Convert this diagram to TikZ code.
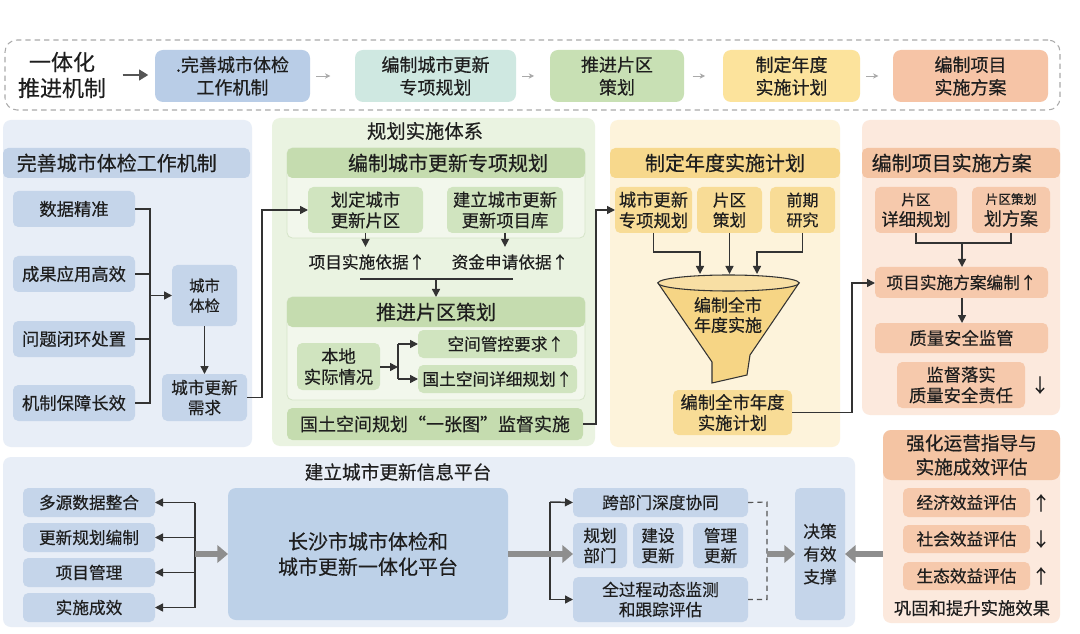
\documentclass[tikz,border=0pt]{standalone}
\usepackage{fontspec}
\setmainfont{Noto Sans CJK SC}[FakeBold=0.4]
\usetikzlibrary{arrows.meta,calc}
\definecolor{txt}{HTML}{1E1E1E}
\definecolor{lnc}{HTML}{333333}
\definecolor{lnc2}{HTML}{555555}
\definecolor{frc}{HTML}{AAAAAA}
\definecolor{thkc}{HTML}{8E8E8E}
\definecolor{cTopA}{HTML}{B9CDE7}
\definecolor{cTopB}{HTML}{CFE8E1}
\definecolor{cTopC}{HTML}{C8E0B4}
\definecolor{cTopD}{HTML}{FCE39C}
\definecolor{cTopE}{HTML}{F6C4A6}
\definecolor{bluBg}{HTML}{E8EEF7}
\definecolor{bluBox}{HTML}{C5D5EA}
\definecolor{bluHd}{HTML}{C3D3E8}
\definecolor{bluBig}{HTML}{BDD1E8}
\definecolor{grnBg}{HTML}{EAF3E1}
\definecolor{grnSub}{HTML}{F2F7EC}
\definecolor{grnSubL}{HTML}{D6E5C9}
\definecolor{grnHd}{HTML}{C5DCAF}
\definecolor{grnBox}{HTML}{D0E4BF}
\definecolor{yelBg}{HTML}{FDF3DB}
\definecolor{yelHd}{HTML}{F7D88C}
\definecolor{yelBox}{HTML}{F8DC96}
\definecolor{yelFun}{HTML}{F6D585}
\definecolor{orgBg}{HTML}{FCE9DD}
\definecolor{orgHd}{HTML}{F4C4A3}
\definecolor{orgBox}{HTML}{F6C9AC}
\newcommand\fsz[2]{\fontsize{#1}{#2}\selectfont}
\newcommand\bx[7]{\node[inner sep=0pt, outer sep=0pt, rounded corners=4pt, align=center,
  minimum width={(#4-#2)*0.75pt}, minimum height={(#5-#3)*0.75pt}, #6]
  (#1) at ({(#2+#4)/2},{(#3+#5)/2}) {#7};}
\begin{document}
\begin{tikzpicture}[x=0.75pt,y=-0.75pt,
  every node/.style={text=txt},
  ln/.style={draw=lnc, line width=1.1pt},
  arr/.style={ln, -{Triangle[width=6pt,length=6pt]}},
  thk/.style={draw=thkc, line width=5pt, -{Triangle[width=13pt,length=8pt]}},
  sarr/.style={draw=frc, line width=0.7pt, -{Stealth[length=4pt,width=4pt]}},
  fA/.style={font=\fsz{12.5pt}{15pt}},
  fB/.style={font=\fsz{13pt}{15.5pt}},
  fH/.style={font=\fsz{15pt}{17pt}}]
\useasboundingbox[fill=white] (0,0) rectangle (1080,634);

% ---------- top band ----------
\bx{topf}{5}{40}{1060}{110}{draw=frc, dash pattern=on 4pt off 3pt, line width=0.8pt, rounded corners=9pt}{}
\node[font=\fsz{16.5pt}{19.5pt}, align=center] (ttl) at (62,75) {一体化\\推进机制};
\bx{tb1}{155}{50}{310}{102}{fill=cTopA, rounded corners=6pt, font=\fsz{13.5pt}{17pt}}{.完善城市体检\\工作机制}
\bx{tb2}{355}{50}{516}{102}{fill=cTopB, rounded corners=6pt, font=\fsz{13.5pt}{17pt}}{编制城市更新\\专项规划}
\bx{tb3}{550}{50}{684}{102}{fill=cTopC, rounded corners=6pt, font=\fsz{13.5pt}{17pt}}{推进片区\\策划}
\bx{tb4}{723}{50}{860}{102}{fill=cTopD, rounded corners=6pt, font=\fsz{13.5pt}{17pt}}{制定年度\\实施计划}
\bx{tb5}{893}{50}{1048}{102}{fill=cTopE, rounded corners=6pt, font=\fsz{13.5pt}{17pt}}{编制项目\\实施方案}
\draw[draw=lnc2, line width=2.2pt, -{Triangle[width=8pt,length=7pt]}, shorten <=9pt, shorten >=5pt] (ttl.east) -- (ttl.east -| tb1.west);
\draw[sarr, shorten <=4.5pt, shorten >=18.5pt] (tb1.east) -- (tb2.west);
\draw[sarr, shorten <=4.5pt, shorten >=12pt] (tb2.east) -- (tb3.west);
\draw[sarr, shorten <=6.5pt, shorten >=13.5pt] (tb3.east) -- (tb4.west);
\draw[sarr, shorten <=4.5pt, shorten >=11pt] (tb4.east) -- (tb5.west);

% ---------- panel 1 ----------
\bx{pn1}{3}{120}{252}{447}{fill=bluBg, rounded corners=6pt}{}
\bx{h1}{3}{148}{250}{178}{fill=bluHd}{}
\node[fH, anchor=west] (h1t) at (12,163) {完善城市体检工作机制};
\bx{pa}{13}{191}{135}{227}{fill=bluBox, fB}{数据精准}
\bx{pb}{13}{256}{135}{292}{fill=bluBox, fB}{成果应用高效}
\bx{pc}{13}{321}{135}{357}{fill=bluBox, fB}{问题闭环处置}
\bx{pd}{13}{385}{135}{421}{fill=bluBox, fB}{机制保障长效}
\bx{chk}{172}{265}{237}{326}{fill=bluBox, font=\fsz{11.5pt}{15pt}}{城市\\体检}
\bx{need}{162}{374}{247}{421}{fill=bluBox, font=\fsz{12.5pt}{15pt}}{城市更新\\需求}
\coordinate (b1t) at (150,209);
\coordinate (b1b) at (150,403);
\draw[ln] (pa.east) -- (b1t) -- (b1b) -- (pd.east);
\draw[ln] (pb.east) -- (pb.east -| b1t);
\draw[ln] (pc.east) -- (pc.east -| b1t);
\draw[arr] (chk.west -| b1t) -- (chk.west);
\draw[arr] (chk.south) -- (need.north);

% ---------- panel 2 ----------
\bx{pn2}{272}{118}{595}{446}{fill=grnBg, rounded corners=6pt}{}
\node[font=\fsz{14.5pt}{17pt}] (pt2) at (425,131) {规划实施体系};
\bx{sp1}{287}{148}{585}{238}{fill=grnSub, draw=grnSubL, line width=0.6pt}{}
\bx{sp1h}{287}{148}{585}{178}{fill=grnHd, fH}{\hspace*{18pt}编制城市更新专项规划}
\bx{hd1}{308}{187}{423}{233}{fill=grnBox, fB}{划定城市\\更新片区}
\bx{hd2}{447}{187}{563}{233}{fill=grnBox, fB}{建立城市更新\\更新项目库}
\node[font=\fsz{12.5pt}{15pt}] (t1) at (367,262) {项目实施依据↑};
\node[font=\fsz{12.5pt}{15pt}] (t2) at (510,262) {资金申请依据↑};
\draw[arr, shorten >=2pt] (hd1.south) -- (hd1.south |- t1.north);
\draw[arr, shorten >=2pt] (hd2.south) -- (hd2.south |- t2.north);
\coordinate (hl1) at (360,279);
\coordinate (hl2) at (513,279);
\draw[ln] (hl1) -- (hl2);
\bx{sp2}{287}{297}{585}{400}{fill=grnSub, draw=grnSubL, line width=0.6pt}{}
\bx{sp2h}{287}{297}{585}{327}{fill=grnHd, fH}{推进片区策划}
\draw[arr] (sp2h.north |- hl1) -- (sp2h.north);
\bx{bd}{297}{343}{380}{390}{fill=grnBox, fB}{本地\\实际情况}
\bx{kz}{418}{330}{577}{358}{fill=grnBox, fA}{\quad 空间管控要求↑}
\bx{xx}{418}{365}{577}{393}{fill=grnBox, fA}{国土空间详细规划↑}
\coordinate (fork) at (398,367);
\draw[arr] (bd.east |- fork) -- (fork);
\draw[ln] (fork |- kz.west) -- (fork |- xx.west);
\draw[arr] (fork |- kz.west) -- (kz.west);
\draw[arr] (fork |- xx.west) -- (xx.west);
\bx{yz}{287}{408}{583}{440}{fill=grnHd, font=\fsz{13.5pt}{16pt}}{国土空间规划“一张图”监督实施}

% ---------- panel 3 ----------
\bx{pn3}{610}{120}{840}{447}{fill=yelBg, rounded corners=6pt}{}
\bx{h3}{610}{148}{840}{178}{fill=yelHd, fH}{制定年度实施计划}
\bx{ya}{615}{187}{692}{233}{fill=yelBox, fB}{城市更新\\专项规划}
\bx{yb}{697}{187}{762}{233}{fill=yelBox, fA}{片区\\策划}
\bx{yc}{770}{187}{835}{233}{fill=yelBox, font=\fsz{12pt}{15pt}}{前期\\研究}
\fill[fill=yelFun, draw=lnc, line width=0.8pt] (658,283) -- (712,362) -- (712,383) -- (747,375) -- (750,355) -- (799,283) -- cycle;
\draw[fill=yelFun!75!white, draw=lnc, line width=0.8pt] (728.5,283) ellipse [x radius=70.5, y radius=8];
\node[font=\fsz{12.75pt}{15pt}, align=center] (fn) at (728,315) {编制全市\\年度实施};
\coordinate (ftop) at (728,274);
\coordinate (fa) at (700,252);
\coordinate (fb) at (757,252);
\draw[arr] (ya.south) |- (fa) -- (fa |- ftop);
\draw[arr] (yb.south) -- (yb.south |- ftop);
\draw[arr] (yc.south) |- (fb) -- (fb |- ftop);
\bx{yp}{673}{390}{792}{435}{fill=yelBox, fB}{编制全市年度\\实施计划}

% ---------- panel 4 ----------
\bx{pn4}{862}{120}{1060}{415}{fill=orgBg, rounded corners=6pt}{}
\bx{h4}{862}{148}{1060}{178}{fill=orgHd}{}
\node[fH, anchor=west] (h4t) at (867,163) {编制项目实施方案};
\bx{oa}{875}{187}{957}{233}{fill=orgBox, fB}{{\fsz{11pt}{14pt}片区}\\详细规划}
\bx{ob}{972}{187}{1050}{233}{fill=orgBox, font=\fsz{13.5pt}{16pt}}{{\fsz{9.5pt}{12pt}片区策划}\\划方案}
\bx{pj}{875}{267}{1048}{298}{fill=orgBox, fA}{项目实施方案编制↑}
\bx{zl}{875}{323}{1048}{353}{fill=orgBox, fB}{质量安全监管}
\bx{jd}{897}{362}{1025}{408}{fill=orgBox, fB}{监督落实\\质量安全责任}
\node[font=\fsz{14pt}{16pt}] (dn1) at (1040,385) {↓};
\coordinate (obr) at (962,243);
\draw[ln] (oa.south) |- (obr) -| (ob.south);
\draw[arr] (obr) -- (pj.north -| obr);
\draw[arr] (pj.south -| obr) -- (zl.north -| obr);

% ---------- cross connectors ----------
\coordinate (c1) at (262,210);
\draw[arr] (need.east) -| (c1) -- (hd1.west);
\coordinate (c2) at (596,210);
\draw[arr] (yz.east) -| (c2) -- (c2 -| ya.west);
\coordinate (c4) at (852,283);
\draw[arr] (yp.east) -| (c4) -- (c4 -| pj.west);

% ---------- bottom panel ----------
\bx{pn5}{3}{457}{855}{627}{fill=bluBg, rounded corners=6pt}{}
\node[font=\fsz{14pt}{17pt}] (pt5) at (398,472) {建立城市更新信息平台};
\bx{ma}{23}{488}{155}{517}{fill=bluBox, fA}{多源数据整合}
\bx{mb}{23}{523}{155}{552}{fill=bluBox, fA}{更新规划编制}
\bx{mc}{23}{558}{155}{587}{fill=bluBox, fA}{项目管理}
\bx{md}{23}{593}{155}{622}{fill=bluBox, fA}{实施成效}
\bx{big}{228}{488}{508}{620}{fill=bluBig, rounded corners=6pt, font=\fsz{15pt}{19pt}}{长沙市城市体检和\\城市更新一体化平台}
\coordinate (vl) at (195,553);
\draw[ln] (vl |- ma.east) -- (vl |- md.east);
\draw[arr] (vl |- ma.east) -- (ma.east);
\draw[arr] (vl |- mb.east) -- (mb.east);
\draw[arr] (vl |- mc.east) -- (mc.east);
\draw[arr] (vl |- md.east) -- (md.east);
\draw[thk] (vl |- big.west) -- (big.west);
\bx{kb}{573}{488}{748}{517}{fill=bluBox, fA}{跨部门深度协同}
\bx{gh}{573}{523}{627}{568}{fill=bluBox, fA}{规划\\部门}
\bx{js}{633}{523}{683}{568}{fill=bluBox, fA}{建设\\更新}
\bx{gl}{693}{523}{748}{568}{fill=bluBox, fA}{管理\\更新}
\bx{qg}{573}{577}{748}{622}{fill=bluBox, fA}{全过程动态监测\\和跟踪评估}
\bx{jc}{795}{488}{845}{620}{fill=bluBox, font=\fsz{12.5pt}{17pt}}{决策\\有效\\支撑}
\coordinate (lb) at (550,502);
\draw[ln] (lb) -- (lb |- qg.west);
\draw[arr] (lb) -- (kb.west);
\draw[arr] (lb |- qg.west) -- (qg.west);
\draw[thk] (big.east) -- (big.east -| gh.west);
\coordinate (dd) at (767,502);
\draw[draw=lnc2, line width=0.9pt, dash pattern=on 4pt off 3pt] (kb.east) -- (dd) -- (dd |- qg.east) -- (qg.east);
\draw[thk] (dd |- jc.west) -- (jc.west);

% ---------- bottom right panel ----------
\bx{pn6}{883}{430}{1060}{623}{fill=orgBg, rounded corners=6pt}{}
\bx{h6}{883}{430}{1060}{480}{fill=orgHd, rounded corners=6pt, font=\fsz{14pt}{18pt}}{强化运营指导与\\实施成效评估}
\bx{ea}{903}{488}{1030}{517}{fill=orgBox, fA}{经济效益评估}
\bx{eb}{903}{525}{1030}{553}{fill=orgBox, fA}{社会效益评估}
\bx{ec}{903}{562}{1030}{590}{fill=orgBox, fA}{生态效益评估}
\node[font=\fsz{14pt}{16pt}] (ua) at (1041,503) {↑};
\node[font=\fsz{14pt}{16pt}] (ub) at (1041,539) {↓};
\node[font=\fsz{14pt}{16pt}] (uc) at (1041,576) {↑};
\node[font=\fsz{13pt}{16pt}] (gg) at (972,608) {巩固和提升实施效果};
\draw[thk] (pn6.west |- jc.east) -- (jc.east);
\end{tikzpicture}
\end{document}
